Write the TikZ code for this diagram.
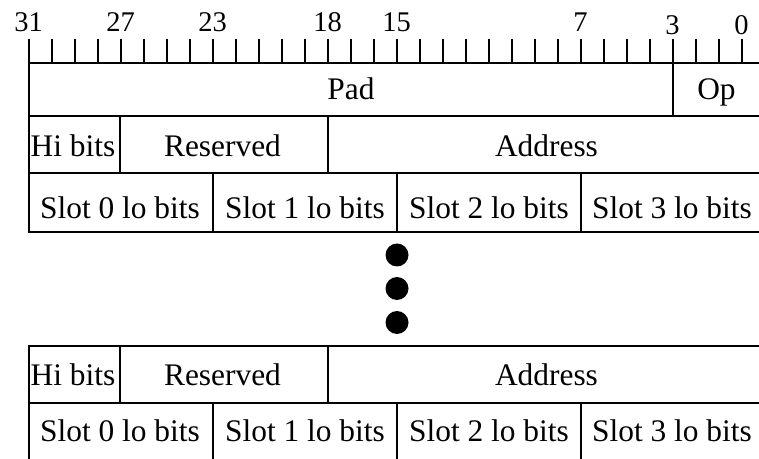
\documentclass[tikz,border=0pt]{standalone}
\usepackage{fontspec}
\setmainfont{Liberation Serif}
\begin{document}
\begin{tikzpicture}[x=1bp,y=-1bp,
  rule/.style={line width=2.6bp,line cap=butt},
  field/.style={anchor=base,inner sep=0pt,font=\fontsize{31.4bp}{36bp}\selectfont},
  bitnum/.style={anchor=base,inner sep=0pt,font=\fontsize{28.5bp}{32bp}\selectfont},
  ellipsisdot/.style={circle,fill=black,inner sep=0pt,minimum size=23bp}]
\useasboundingbox (0,0) rectangle (759,459);

% bit ruler: 32 ticks, 23bp per bit, bit 31 at x=29
\foreach \b in {0,...,31}
  \draw[rule] ({742-23*\b},39) -- ({742-23*\b},63);
\foreach \b/\yy in {31/32,27/32,23/32,18/32,15/32,7/32,3/35,0/35}
  \node[bitnum] (n\b) at ({742-23*\b-0.5},\yy) {\b};

% upper block
\draw[rule] (27.7,63) -- (759,63);
\draw[rule] (27.7,116) -- (759,116);
\draw[rule] (27.7,173) -- (759,173);
\draw[rule] (27.7,232) -- (759,232);
\draw[rule] (29,39) -- (29,233.3);
\draw[rule] (673,63) -- (673,116);
\draw[rule] (120,116) -- (120,173);
\draw[rule] (328,116) -- (328,173);
\foreach \xx in {213,397,581}
  \draw[rule] (\xx,173) -- (\xx,232);

\node[field] (pad) at (351,99.3) {Pad};
\node[field] (op) at (716.5,99.3) {Op};
\node[field] (hi1) at (73,156.7) {Hi bits};
\node[field] (res1) at (222.5,156.7) {Reserved};
\node[field] (addr1) at (546.5,156.7) {Address};
\node[field] (s0a) at (120,218.3) {Slot 0 lo bits};
\node[field] (s1a) at (305,218.3) {Slot 1 lo bits};
\node[field] (s2a) at (489,218.3) {Slot 2 lo bits};
\node[field] (s3a) at (672,218.3) {Slot 3 lo bits};

% continuation dots
\node[ellipsisdot] (d1) at (397,255) {};
\node[ellipsisdot] (d2) at (397,288.5) {};
\node[ellipsisdot] (d3) at (397,322.5) {};

% lower block
\draw[rule] (27.7,346) -- (759,346);
\draw[rule] (27.7,403) -- (759,403);
\draw[rule] (29,344.7) -- (29,459);
\draw[rule] (120,346) -- (120,403);
\draw[rule] (328,346) -- (328,403);
\foreach \xx in {213,397,581}
  \draw[rule] (\xx,403) -- (\xx,459);

\node[field] (hi2) at (73,385) {Hi bits};
\node[field] (res2) at (222.5,385) {Reserved};
\node[field] (addr2) at (546.5,385) {Address};
\node[field] (s0b) at (120,441.7) {Slot 0 lo bits};
\node[field] (s1b) at (305,441.7) {Slot 1 lo bits};
\node[field] (s2b) at (489,441.7) {Slot 2 lo bits};
\node[field] (s3b) at (672,441.7) {Slot 3 lo bits};
\end{tikzpicture}
\end{document}
